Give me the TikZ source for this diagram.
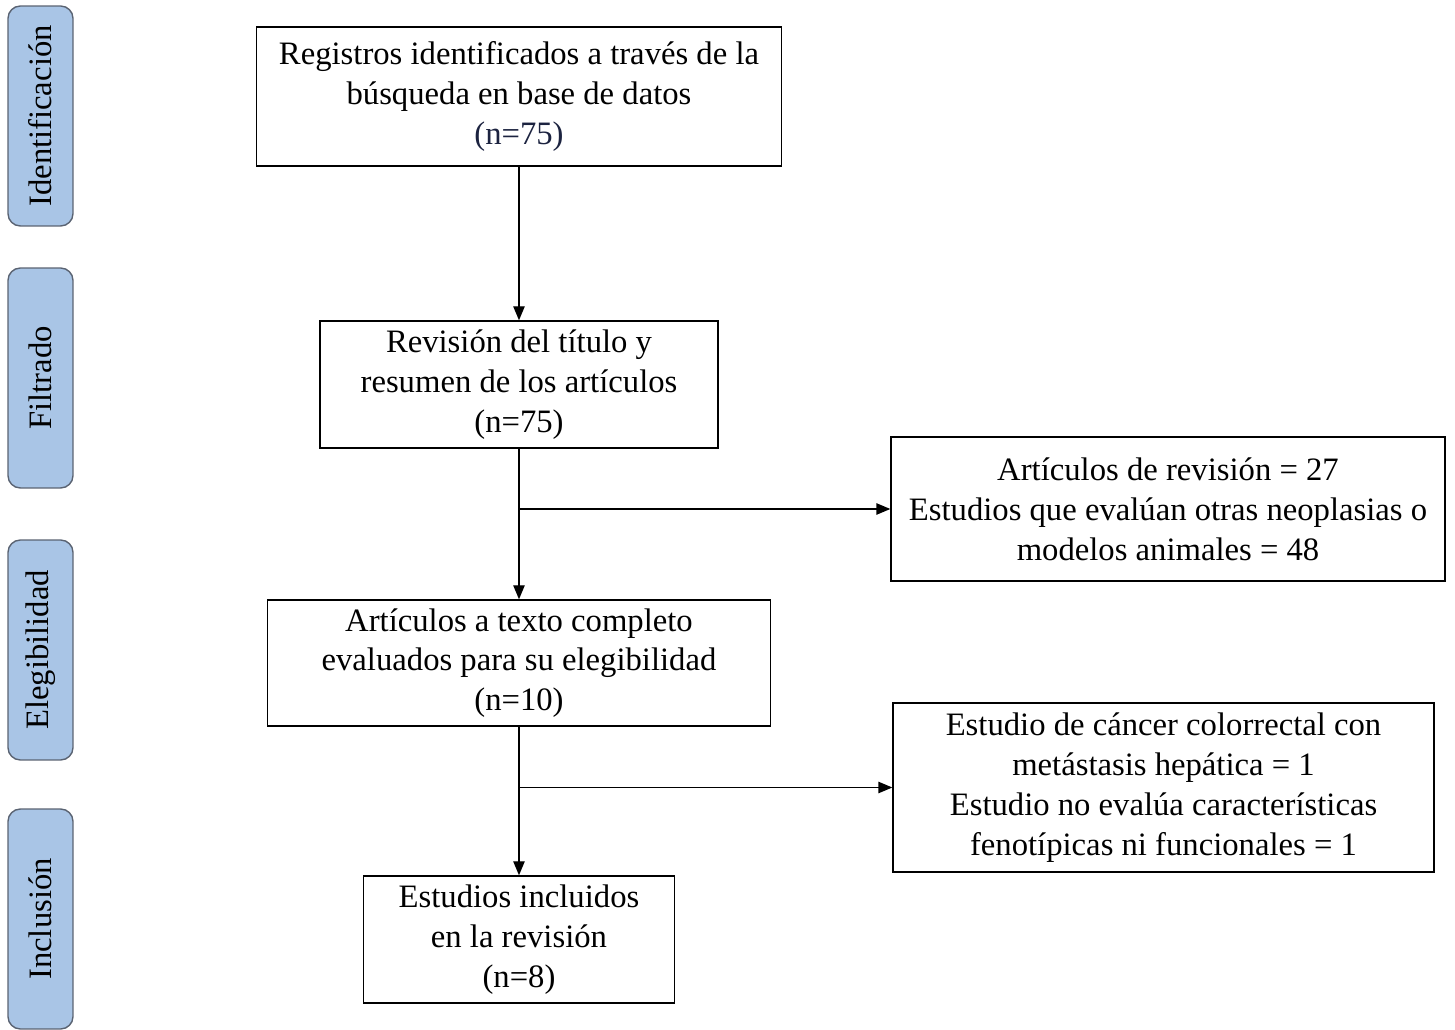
\documentclass[tikz,border=0pt]{standalone}
\usepackage{fontspec}
\setmainfont{Liberation Serif}
\usepackage{xcolor}
\usetikzlibrary{shapes,arrows.meta,positioning}

\definecolor{phasefill}{HTML}{A9C5E6}
\definecolor{phaseline}{HTML}{5A6372}
\definecolor{navytext}{HTML}{1C2340}

\begin{document}
\begin{tikzpicture}[
    x=0.02cm, y=-0.02cm,
    font=\fontsize{18.6}{22.7}\selectfont,
    box/.style={draw, rectangle, line width=0.8pt, align=center, inner sep=0pt},
    phase/.style={draw=phaseline, fill=phasefill, rounded corners=7pt, line width=0.8pt, rotate=90, minimum width=4.4cm, minimum height=1.3cm, inner sep=0pt},
    arr/.style={-{Triangle[length=8pt,width=6.5pt]}, line width=0.8pt}
]
    \useasboundingbox (0,0) rectangle (1455,1030);

    % fases
    \node[phase] (ident) at (40.5,116) {Identificación};
    \node[phase] (filtr) at (40.5,378) {Filtrado};
    \node[phase] (elegi) at (40.5,650) {Elegibilidad};
    \node[phase] (inclu) at (40.5,919) {Inclusión};

    % cajas principales
    \node[box, minimum width=10.5cm, minimum height=2.78cm] (regist) at (519,96.5) {Registros identificados a través de la\\búsqueda en base de datos\\\textcolor{navytext}{(n=75)}};
    \node[box, minimum width=7.96cm, minimum height=2.54cm] (revis) at (519,384.5) {Revisión del título y\\resumen de los artículos\\(n=75)};
    \node[box, minimum width=10.06cm, minimum height=2.52cm] (texto) at (519,663) {Artículos a texto completo\\evaluados para su elegibilidad\\(n=10)};
    \node[box, minimum width=6.22cm, minimum height=2.54cm] (inclui) at (519,939.5) {Estudios incluidos\\en la revisión\\(n=8)};

    % excluidos
    \node[box, minimum width=11.08cm, minimum height=2.88cm] (excl1) at (1168,509) {Artículos de revisión = 27\\Estudios que evalúan otras neoplasias o\\modelos animales = 48};
    \node[box, minimum width=10.82cm, minimum height=3.38cm] (excl2) at (1163.5,787.5) {Estudio de cáncer colorrectal con\\metástasis hepática = 1\\Estudio no evalúa características\\fenotípicas ni funcionales = 1};

    \draw[arr] (regist) -- (revis);
    \draw[arr] (revis) -- (texto);
    \draw[arr] (texto) -- (inclui);
    \draw[arr] (revis.south |- excl1.west) -- (excl1.west);
    \draw[arr] (texto.south |- excl2.west) -- (excl2.west);
\end{tikzpicture}
\end{document}
